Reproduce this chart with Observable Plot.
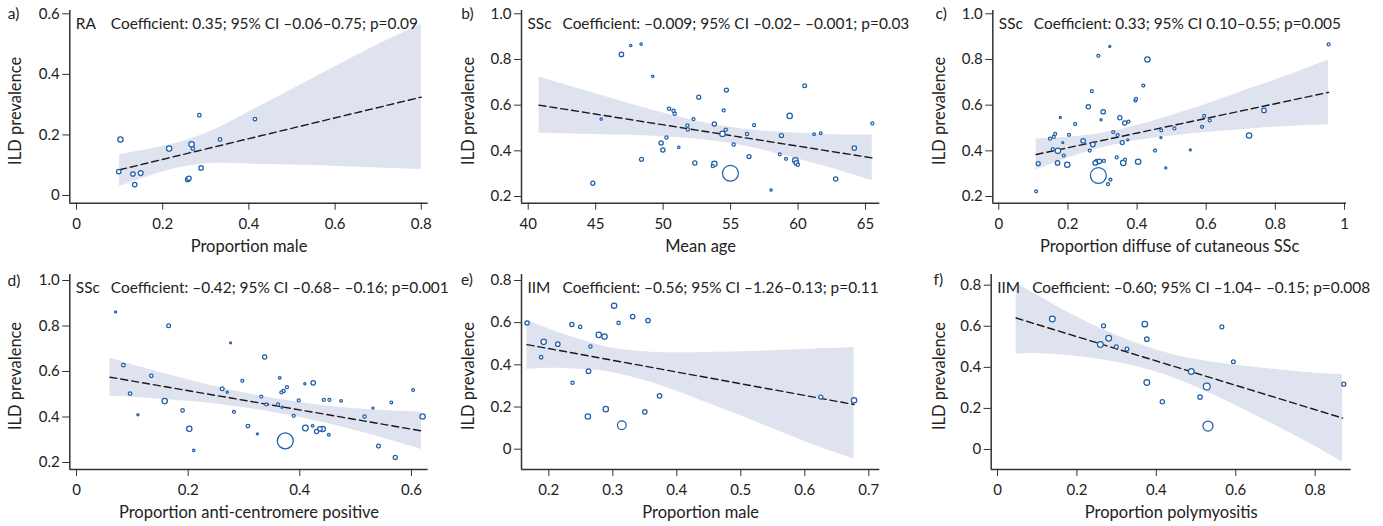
<!DOCTYPE html>
<html>
<head>
<meta charset="utf-8">
<script src="https://cdn.jsdelivr.net/npm/d3@7"></script>
<script src="https://cdn.jsdelivr.net/npm/@observablehq/plot@0.6"></script>
<style>
  html, body { margin: 0; padding: 0; background: #fff; }
  #wrap { position: relative; width: 1383px; height: 526px; overflow: hidden; }
  #wrap svg { position: absolute; }
</style>
</head>
<body>
<div id="wrap"></div>
<script>
// ---------- Panel a: RA, proportion male ----------
const aX = [0.098,0.102,0.131,0.135,0.149,0.215,0.258,0.261,0.267,0.270,0.285,0.289,0.333,0.414];
const aY = [0.079,0.185,0.071,0.036,0.074,0.155,0.053,0.057,0.169,0.155,0.265,0.091,0.185,0.252];
const aN = [55,80,55,55,65,80,55,55,80,35,35,55,35,35];
const aFitX = [0.1, 0.8];
const aFitY = [0.085, 0.325];
const aBandX  = [0.1, 0.2, 0.3, 0.4, 0.5, 0.6, 0.7, 0.8];
const aBandLo = [0.030, 0.078, 0.105, 0.104, 0.101, 0.097, 0.091, 0.086];
const aBandHi = [0.135, 0.162, 0.205, 0.276, 0.350, 0.425, 0.499, 0.566];
const aXTicks = [0, 0.2, 0.4, 0.6, 0.8];
const aXTickLabels = ["0", "0.2", "0.4", "0.6", "0.8"];
const aYTicks = [0, 0.2, 0.4, 0.6];
const aYTickLabels = ["0", "0.2", "0.4", "0.6"];

// ---------- Panel b: SSc, mean age ----------
const bX = [44.79,45.41,46.91,47.60,48.37,48.40,49.23,49.85,49.98,50.25,50.44,50.77,50.86,51.16,51.80,51.83,52.25,52.35,52.64,53.80,53.80,53.68,54.40,54.49,54.64,54.69,54.99,55.23,56.22,56.37,56.74,58.00,58.64,58.77,59.11,59.38,59.80,59.88,59.98,60.49,61.19,61.68,62.79,64.17,65.51];
const bY = [0.258,0.539,0.822,0.861,0.867,0.363,0.726,0.434,0.404,0.458,0.584,0.575,0.562,0.415,0.511,0.493,0.539,0.347,0.635,0.517,0.343,0.333,0.474,0.577,0.492,0.666,0.302,0.428,0.474,0.375,0.512,0.228,0.385,0.467,0.365,0.553,0.358,0.347,0.339,0.685,0.473,0.477,0.277,0.412,0.520];
const bN = [45,16,55,16,16,45,16,50,50,30,30,30,30,16,30,30,25,50,45,50,80,25,80,25,30,45,700,30,30,45,25,16,25,45,25,80,90,60,30,40,20,20,50,55,25];
const bFitX = [40.8, 65.5];
const bFitY = [0.600, 0.369];
const bBandX  = [40.8, 44, 47, 50, 53, 56, 59, 62, 65.5];
const bBandLo = [0.477, 0.473, 0.469, 0.462, 0.448, 0.421, 0.380, 0.332, 0.269];
const bBandHi = [0.723, 0.667, 0.615, 0.566, 0.524, 0.495, 0.480, 0.472, 0.469];
const bXTicks = [40, 45, 50, 55, 60, 65];
const bXTickLabels = ["40", "45", "50", "55", "60", "65"];
const bYTicks = [0.2, 0.4, 0.6, 0.8, 1.0];
const bYTickLabels = ["0.2", "0.4", "0.6", "0.8", "1.0"];

// ---------- Panel c: SSc, proportion diffuse cutaneous ----------
const cX = [0.108,0.114,0.148,0.156,0.159,0.163,0.171,0.170,0.178,0.185,0.188,0.198,0.203,0.221,0.244,0.259,0.263,0.269,0.272,0.279,0.284,0.288,0.288,0.291,0.296,0.302,0.304,0.316,0.323,0.321,0.331,0.341,0.344,0.350,0.357,0.360,0.364,0.365,0.373,0.375,0.395,0.397,0.403,0.430,0.418,0.452,0.469,0.470,0.483,0.508,0.554,0.588,0.594,0.610,0.724,0.767,0.954];
const cY = [0.223,0.344,0.453,0.407,0.461,0.474,0.400,0.347,0.546,0.436,0.379,0.339,0.470,0.517,0.444,0.593,0.401,0.661,0.428,0.347,0.352,0.816,0.292,0.354,0.536,0.571,0.356,0.254,0.274,0.857,0.482,0.371,0.469,0.545,0.436,0.347,0.522,0.361,0.448,0.528,0.620,0.628,0.352,0.800,0.686,0.401,0.458,0.490,0.325,0.498,0.404,0.505,0.553,0.533,0.467,0.577,0.866];
const cN = [25,45,25,25,25,25,80,55,12,12,25,80,25,25,55,50,25,25,55,55,60,25,700,55,12,55,25,25,25,12,25,25,25,50,45,80,50,25,12,25,25,25,80,80,25,25,12,25,12,25,12,25,25,25,80,55,25];
const cFitX = [0.108, 0.954];
const cFitY = [0.384, 0.656];
const cBandX  = [0.108, 0.2, 0.3, 0.4, 0.5, 0.6, 0.7, 0.8, 0.954];
const cBandLo = [0.316, 0.369, 0.414, 0.445, 0.465, 0.480, 0.492, 0.504, 0.514];
const cBandHi = [0.452, 0.459, 0.478, 0.511, 0.555, 0.604, 0.658, 0.710, 0.798];
const cXTicks = [0, 0.2, 0.4, 0.6, 0.8, 1];
const cXTickLabels = ["0", "0.2", "0.4", "0.6", "0.8", "1"];
const cYTicks = [0.2, 0.4, 0.6, 0.8, 1.0];
const cYTickLabels = ["0.2", "0.4", "0.6", "0.8", "1.0"];

// ---------- Panel d: SSc, proportion anti-centromere positive ----------
const dX = [0.070,0.084,0.096,0.110,0.134,0.158,0.165,0.190,0.202,0.210,0.261,0.270,0.276,0.282,0.297,0.307,0.324,0.331,0.337,0.340,0.361,0.364,0.367,0.371,0.368,0.377,0.374,0.389,0.398,0.409,0.410,0.424,0.423,0.430,0.436,0.441,0.443,0.452,0.453,0.474,0.516,0.531,0.541,0.564,0.571,0.603,0.620];
const dY = [0.862,0.628,0.503,0.410,0.581,0.470,0.801,0.429,0.348,0.253,0.524,0.509,0.726,0.423,0.559,0.360,0.326,0.490,0.664,0.455,0.455,0.572,0.508,0.514,0.443,0.531,0.295,0.405,0.473,0.546,0.352,0.550,0.361,0.336,0.348,0.347,0.475,0.322,0.475,0.471,0.402,0.439,0.272,0.464,0.222,0.519,0.402];
const dN = [12,35,35,12,35,80,40,35,80,16,40,12,12,25,25,35,12,25,50,25,25,20,25,30,12,25,700,25,25,12,90,55,20,50,55,80,25,20,25,20,30,12,40,20,45,20,80];
const dFitX = [0.06, 0.618];
const dFitY = [0.575, 0.339];
const dBandX  = [0.06, 0.12, 0.2, 0.28, 0.36, 0.44, 0.52, 0.618];
const dBandLo = [0.492, 0.484, 0.469, 0.447, 0.417, 0.377, 0.327, 0.257];
const dBandHi = [0.658, 0.616, 0.563, 0.517, 0.479, 0.451, 0.433, 0.421];
const dXTicks = [0, 0.2, 0.4, 0.6];
const dXTickLabels = ["0", "0.2", "0.4", "0.6"];
const dYTicks = [0.2, 0.4, 0.6, 0.8, 1.0];
const dYTickLabels = ["0.2", "0.4", "0.6", "0.8", "1.0"];

// ---------- Panel e: IIM, proportion male ----------
const eX = [0.166,0.188,0.192,0.214,0.236,0.237,0.249,0.261,0.262,0.265,0.278,0.287,0.289,0.302,0.309,0.314,0.331,0.350,0.355,0.373,0.625,0.677];
const eY = [0.599,0.436,0.509,0.498,0.591,0.315,0.580,0.155,0.370,0.487,0.542,0.534,0.190,0.680,0.599,0.114,0.629,0.177,0.610,0.253,0.247,0.232];
const eN = [50,35,80,55,50,30,30,80,60,30,80,80,80,80,30,210,55,55,55,55,45,80];
const eFitX = [0.166, 0.677];
const eFitY = [0.496, 0.212];
const eBandX  = [0.166, 0.2, 0.25, 0.3, 0.35, 0.4, 0.5, 0.6, 0.677];
const eBandLo = [0.378, 0.384, 0.379, 0.363, 0.326, 0.275, 0.158, 0.037, -0.046];
const eBandHi = [0.614, 0.570, 0.519, 0.479, 0.462, 0.457, 0.462, 0.473, 0.482];
const eXTicks = [0.2, 0.3, 0.4, 0.5, 0.6, 0.7];
const eXTickLabels = ["0.2", "0.3", "0.4", "0.5", "0.6", "0.7"];
const eYTicks = [0, 0.2, 0.4, 0.6, 0.8];
const eYTickLabels = ["0", "0.2", "0.4", "0.6", "0.8"];

// ---------- Panel f: IIM, proportion polymyositis ----------
const fX = [0.138,0.267,0.259,0.280,0.299,0.326,0.371,0.376,0.376,0.415,0.488,0.510,0.527,0.530,0.565,0.594,0.872];
const fY = [0.635,0.602,0.511,0.542,0.500,0.489,0.610,0.537,0.326,0.232,0.380,0.255,0.307,0.114,0.597,0.427,0.318];
const fN = [90,45,90,90,40,40,85,55,90,50,90,55,130,280,40,40,45];
const fFitX = [0.047, 0.869];
const fFitY = [0.640, 0.153];
const fBandX  = [0.047, 0.1, 0.2, 0.3, 0.4, 0.5, 0.6, 0.7, 0.8, 0.869];
const fBandLo = [0.464, 0.467, 0.453, 0.425, 0.377, 0.304, 0.214, 0.117, 0.015, -0.062];
const fBandHi = [0.810, 0.751, 0.645, 0.555, 0.485, 0.438, 0.410, 0.389, 0.371, 0.364];
const fXTicks = [0, 0.2, 0.4, 0.6, 0.8];
const fXTickLabels = ["0", "0.2", "0.4", "0.6", "0.8"];
const fYTicks = [0, 0.2, 0.4, 0.6, 0.8];
const fYTickLabels = ["0", "0.2", "0.4", "0.6", "0.8"];

// ---------- Text ----------
const letters = ["a)", "b)", "c)", "d)", "e)", "f)"];
const groups = ["RA", "SSc", "SSc", "SSc", "IIM", "IIM"];
const coefs = [
  "Coefficient: 0.35; 95% CI \u20130.06\u20130.75; p=0.09",
  "Coefficient: \u20130.009; 95% CI \u20130.02\u2013 \u20130.001; p=0.03",
  "Coefficient: 0.33; 95% CI 0.10\u20130.55; p=0.005",
  "Coefficient: \u20130.42; 95% CI \u20130.68\u2013 \u20130.16; p=0.001",
  "Coefficient: \u20130.56; 95% CI \u20131.26\u20130.13; p=0.11",
  "Coefficient: \u20130.60; 95% CI \u20131.04\u2013 \u20130.15; p=0.008"
];
const xLabels = ["Proportion male", "Mean age", "Proportion diffuse of cutaneous SSc",
  "Proportion anti-centromere positive", "Proportion male", "Proportion polymyositis"];
const yLabel = "ILD prevalence";

// ---------- Layout (pixel geometry of each panel) ----------
const layout = [
  {left: 0,   top: 0,   w: 460, h: 260, ml: 69.3, mr: 32.3, mt: 10, mb: 57.3, xd: [-0.0155, 0.816], yd: [-0.0254, 0.611], letterDx: -62, letterDy: 3.3, ylabDx: -54.3},
  {left: 460, top: 0,   w: 460, h: 260, ml: 61,   mr: 40.7, mt: 10, mb: 57.3, xd: [39.503, 66.06], yd: [0.1707, 1.0144], letterDx: -60.3, letterDy: 3.3, ylabDx: -52.7},
  {left: 920, top: 0,   w: 463, h: 260, ml: 72.3, mr: 37,   mt: 10, mb: 57.3, xd: [-0.01736, 1.0058], yd: [0.1707, 1.0144], letterDx: -57.3, letterDy: 3.3, ylabDx: -53.3},
  {left: 0,   top: 260, w: 460, h: 266, ml: 69.3, mr: 32.3, mt: 14, mb: 57,   xd: [-0.012, 0.630], yd: [0.1692, 1.0264], letterDx: -62.3, letterDy: 7, ylabDx: -54.3},
  {left: 460, top: 260, w: 460, h: 266, ml: 61,   mr: 40.7, mt: 14, mb: 57,   xd: [0.1573, 0.7172], yd: [-0.0963, 0.8284], letterDx: -60.5, letterDy: 6, ylabDx: -52.7},
  {left: 920, top: 260, w: 463, h: 266, ml: 70.7, mr: 32.3, mt: 14, mb: 57,   xd: [-0.0159, 0.8907], yd: [-0.0974, 0.852], letterDx: -57.7, letterDy: 6, ylabDx: -51.7}
];

const series = [
  [aX, aY, aN, aFitX, aFitY, aBandX, aBandLo, aBandHi, aXTicks, aXTickLabels, aYTicks, aYTickLabels],
  [bX, bY, bN, bFitX, bFitY, bBandX, bBandLo, bBandHi, bXTicks, bXTickLabels, bYTicks, bYTickLabels],
  [cX, cY, cN, cFitX, cFitY, cBandX, cBandLo, cBandHi, cXTicks, cXTickLabels, cYTicks, cYTickLabels],
  [dX, dY, dN, dFitX, dFitY, dBandX, dBandLo, dBandHi, dXTicks, dXTickLabels, dYTicks, dYTickLabels],
  [eX, eY, eN, eFitX, eFitY, eBandX, eBandLo, eBandHi, eXTicks, eXTickLabels, eYTicks, eYTickLabels],
  [fX, fY, fN, fFitX, fFitY, fBandX, fBandLo, fBandHi, fXTicks, fXTickLabels, fYTicks, fYTickLabels]
];

const BLUE = "#1f5fa8";
const BAND = "#dfe3f0";
const INK = "#222";
const AXIS = "#333";
const FONT = "Lato, 'Noto Sans', sans-serif";

const wrap = document.getElementById("wrap");

series.forEach((s, i) => {
  const [X, Y, N, FX, FY, BX, BLo, BHi, XT, XTL, YT, YTL] = s;
  const L = layout[i];
  const pts = X.map((x, k) => ({x, y: Y[k], n: N[k]}));
  const fit = FX.map((x, k) => ({x, y: FY[k]}));
  const band = BX.map((x, k) => ({x, lo: BLo[k], hi: BHi[k]}));
  const xMap = new Map(XT.map((t, k) => [t, XTL[k]]));
  const yMap = new Map(YT.map((t, k) => [t, YTL[k]]));

  const svg = Plot.plot({
    width: L.w, height: L.h,
    marginLeft: L.ml, marginRight: L.mr, marginTop: L.mt, marginBottom: L.mb,
    style: {fontFamily: FONT, fontSize: "15px", color: INK, background: "transparent", overflow: "visible"},
    x: {domain: L.xd, label: null, axis: null},
    y: {domain: L.yd, label: null, axis: null},
    r: {type: "sqrt", domain: [0, 1000], range: [0, 9.5]},
    marks: [
      Plot.areaY(band, {x: "x", y1: "lo", y2: "hi", fill: BAND, curve: "natural"}),
      Plot.line(fit, {x: "x", y: "y", stroke: "#1a1a1a", strokeWidth: 1.4, strokeDasharray: "7,4"}),
      Plot.dot(pts, {x: "x", y: "y", r: "n", stroke: BLUE, fill: "white", strokeWidth: 1.25}),
      Plot.ruleX([L.xd[0]], {stroke: AXIS, strokeWidth: 1.5}),
      Plot.ruleY([L.yd[0]], {stroke: AXIS, strokeWidth: 1.5}),
      Plot.axisX(XT, {anchor: "bottom", tickFormat: d => xMap.get(d), tickSize: 7, tickPadding: 8, label: null, stroke: AXIS, fill: INK, fontSize: 15}),
      Plot.axisY(YT, {anchor: "left", tickFormat: d => yMap.get(d), tickSize: 7, tickPadding: 3, label: null, stroke: AXIS, fill: INK, fontSize: 15}),
      Plot.text([letters[i]], {frameAnchor: "top-left", dx: L.letterDx, dy: L.letterDy, textAnchor: "start", lineAnchor: "middle", fontSize: 15.5, fill: INK}),
      Plot.text([groups[i]], {frameAnchor: "top-left", dx: 6, dy: 13.5, textAnchor: "start", lineAnchor: "middle", fontSize: 15.4, fill: INK}),
      Plot.text([coefs[i]], {frameAnchor: "top-left", dx: 41, dy: 13.5, textAnchor: "start", lineAnchor: "middle", fontSize: 15.4, fill: INK}),
      Plot.text([xLabels[i]], {frameAnchor: "bottom", dy: 43.5, textAnchor: "middle", lineAnchor: "middle", fontSize: 16.5, fill: INK}),
      Plot.text([yLabel], {frameAnchor: "left", dx: L.ylabDx, dy: 4, rotate: -90, textAnchor: "middle", lineAnchor: "middle", fontSize: 16.5, fill: INK})
    ]
  });
  svg.style.left = L.left + "px";
  svg.style.top = L.top + "px";
  wrap.appendChild(svg);
});
</script>
</body>
</html>
